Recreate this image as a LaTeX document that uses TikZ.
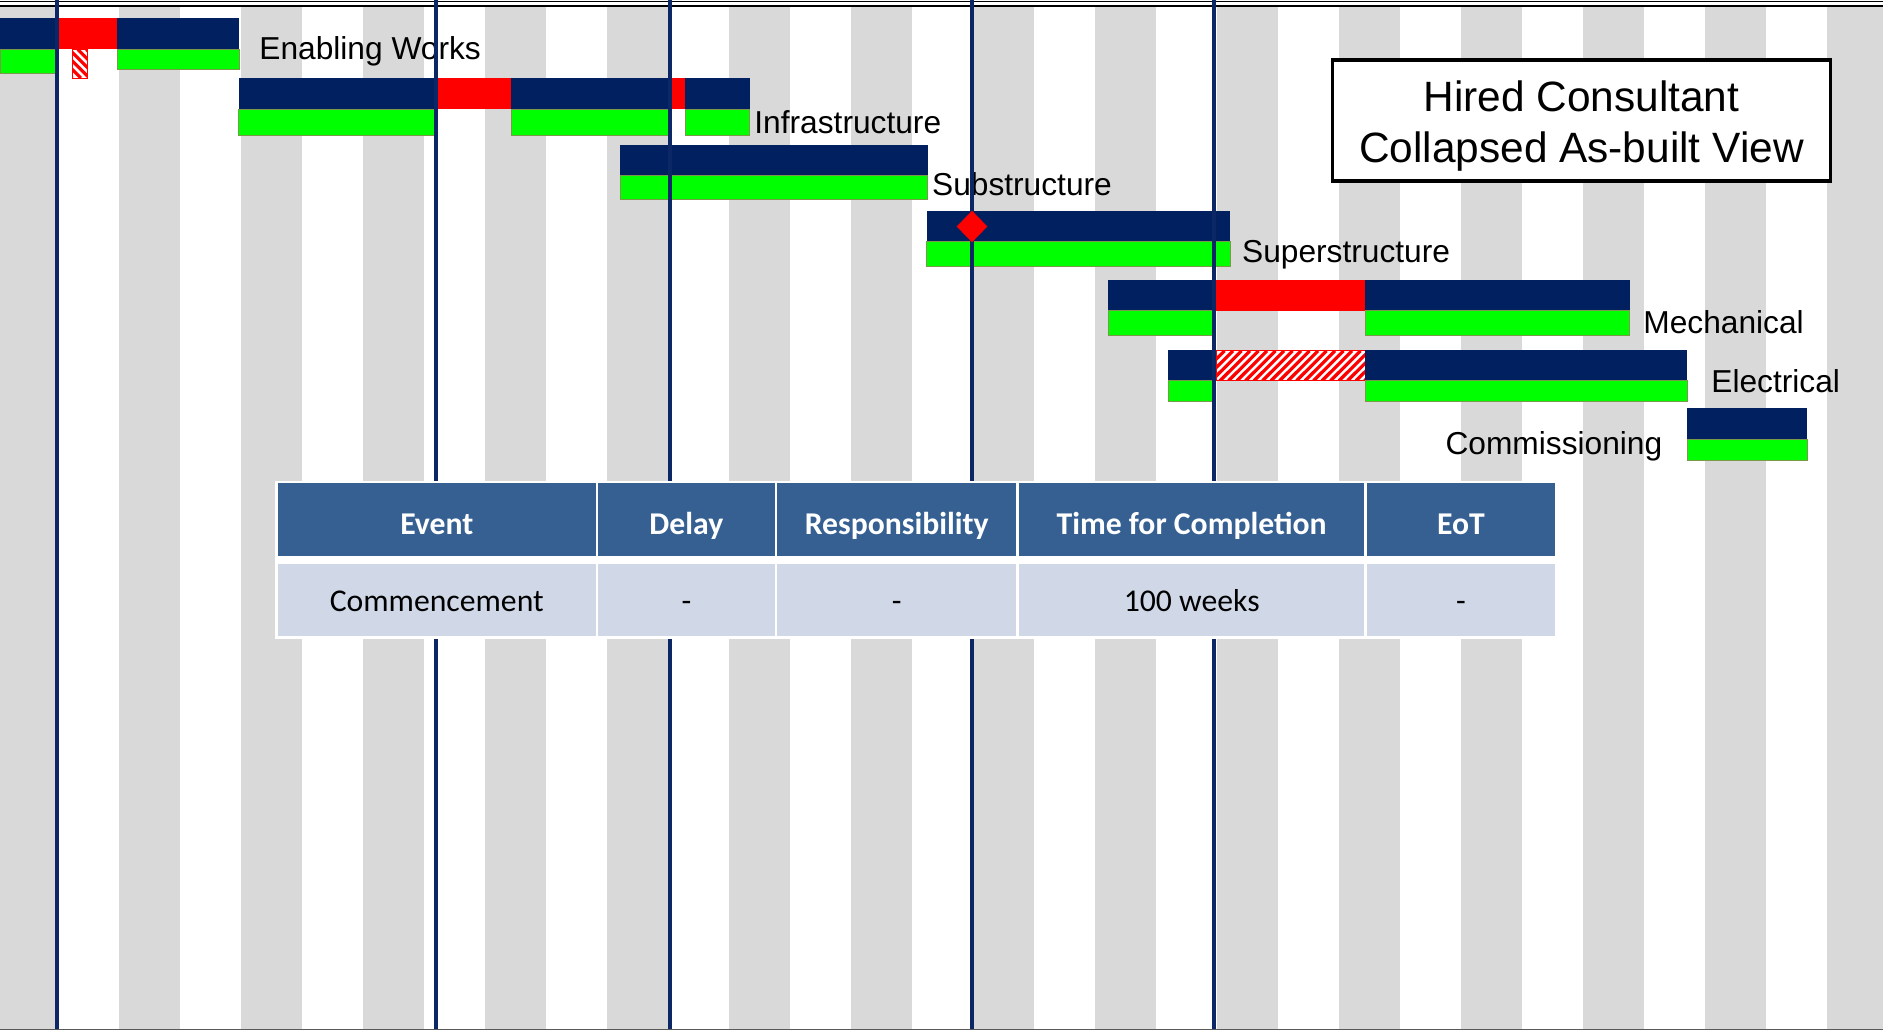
\documentclass[tikz,border=0pt]{standalone}
\usepackage{fontspec}
\setmainfont{Liberation Sans}
\newfontfamily\tablefont{Carlito}
\usetikzlibrary{shapes.geometric}
\definecolor{navy}{HTML}{002060}
\definecolor{barGreen}{HTML}{00FF00}
\definecolor{greenEdge}{HTML}{7A9A4A}
\definecolor{stripe}{HTML}{D9D9D9}
\definecolor{hdrBlue}{HTML}{366092}
\definecolor{rowBlue}{HTML}{D0D8E8}
\definecolor{gridLine}{HTML}{0B2766}
\definecolor{frameGray}{HTML}{595959}
\begin{document}
\begin{tikzpicture}[x=0.5pt,y=-0.5pt,
  navybar/.style={fill=navy},
  redbar/.style={fill=red},
  greenbar/.style={fill=barGreen, draw=greenEdge, line width=0.35pt},
  hatchline/.style={draw=red, line width=1.6pt},
  hatchedge/.style={draw=red, line width=0.5pt},
  gridline/.style={draw=gridLine, line width=1.9pt},
  barlabel/.style={anchor=base west, inner sep=0pt, font=\fontsize{15.85}{19}\selectfont},
  titletext/.style={anchor=base, inner sep=0pt, font=\fontsize{21.2}{25.5}\selectfont},
  hdrtext/.style={anchor=base, inner sep=0pt, text=white, font=\tablefont\bfseries\fontsize{15.85}{19}\selectfont},
  bodytext/.style={anchor=base, inner sep=0pt, text=black, font=\tablefont\fontsize{15.85}{19}\selectfont},
]
\useasboundingbox (0,0) rectangle (1883,1030);
\fill[white] (0,0) rectangle (1883,1030);

% week stripes
\foreach \k in {0,...,15}
  \fill[stripe] ({-3+122*\k},7) rectangle ({min(58+122*\k,1883)},1028.5);

% frame lines
\draw[black, line width=0.6pt] (0,1.5) -- (1883,1.5);
\draw[black, line width=1.2pt] (0,5.7) -- (1883,5.7);
\draw[frameGray, line width=0.7pt] (0,1029.3) -- (1883,1029.3);

% Enabling Works
\fill[navybar] (0,17.5) rectangle (55,49);
\fill[redbar] (55,17.5) rectangle (117.3,49);
\fill[navybar] (117.3,17.5) rectangle (239.3,49);
\path[greenbar] (0,49) rectangle (55,73.5);
\path[greenbar] (117.3,49) rectangle (239.3,69);
% slipped portion, back-slash hatch
\fill[white] (72.3,49.5) rectangle (87.7,78);
\begin{scope}
  \clip (72.3,49.5) rectangle (87.7,78);
  \foreach \i in {0,...,6}
    \draw[hatchline] ({72.3-28.5+8.5*\i},49.5) -- ({72.3+8.5*\i},78);
\end{scope}
\draw[hatchedge] (72.3,49.5) rectangle (87.7,78);

% Infrastructure
\fill[navybar] (238.7,78.3) rectangle (437,109.3);
\fill[redbar] (437,78.3) rectangle (511.3,109.3);
\fill[navybar] (511.3,78.3) rectangle (671.2,109.3);
\fill[redbar] (671.2,78.3) rectangle (685,109.3);
\fill[navybar] (685,78.3) rectangle (749.5,109.3);
\path[greenbar] (238.7,109.3) rectangle (434,135);
\path[greenbar] (511.3,109.3) rectangle (668.4,135);
\path[greenbar] (685,109.3) rectangle (749.5,135);

% Substructure
\fill[navybar] (620,144.5) rectangle (927.5,175.3);
\path[greenbar] (620,175.3) rectangle (927.5,199.3);

% Superstructure
\fill[navybar] (926.7,211) rectangle (1230,241.7);
\path[greenbar] (926.7,241.7) rectangle (1230,266);

% Mechanical
\fill[navybar] (1108.3,280) rectangle (1214,310.7);
\fill[redbar] (1214,280) rectangle (1365.3,310.7);
\fill[navybar] (1365.3,280) rectangle (1629.8,310.7);
\path[greenbar] (1108.3,310.7) rectangle (1212,335.3);
\path[greenbar] (1365.3,310.7) rectangle (1629.8,335.3);

% Electrical
\fill[navybar] (1168.4,350.3) rectangle (1214,380.7);
\fill[white] (1216,350.8) rectangle (1365.3,380.7);
\begin{scope}
  \clip (1216,350.8) rectangle (1365.3,380.7);
  \foreach \i in {0,...,22}
    \draw[hatchline] ({1216-30+8.5*\i},380.7) -- ({1216+8.5*\i},350.8);
\end{scope}
\draw[hatchedge] (1216,350.8) rectangle (1365.3,380.7);
\fill[navybar] (1365.3,350.3) rectangle (1687,380.7);
\path[greenbar] (1168.4,380.7) rectangle (1212,401.7);
\path[greenbar] (1365.3,380.7) rectangle (1687,401.7);

% Commissioning
\fill[navybar] (1687,408.3) rectangle (1807.3,439.3);
\path[greenbar] (1687,439.3) rectangle (1807.3,460);

% activity labels
\node[barlabel] (lblEW) at (259,59) {Enabling Works};
\node[barlabel] (lblINF) at (754,133) {Infrastructure};
\node[barlabel] (lblSUB) at (931.7,195.5) {Substructure};
\node[barlabel] (lblSUP) at (1241.7,262.8) {Superstructure};
\node[barlabel] (lblMEC) at (1643,333) {Mechanical};
\node[barlabel] (lblELE) at (1711,392) {Electrical};
\node[barlabel, anchor=base east] (lblCOM) at (1662.6,454.5) {Commissioning};

% data dates
\foreach \gx in {57,436,670,972,1214}
  \draw[gridline] (\gx,0) -- (\gx,1029);

% milestone
\node[diamond, fill=red, minimum width=15.5pt, minimum height=16pt, inner sep=0pt] (milestone) at (972,226.5) {};

% title box
\node[draw=black, line width=1.8pt, fill=white, minimum width=249pt, minimum height=60.5pt, inner sep=0pt] (titlebox) at (1581.4,120.5) {};
\node[titletext] (titleA) at (1581.4,111) {Hired Consultant};
\node[titletext] (titleB) at (1581.4,162.3) {Collapsed As-built View};

% event table
\fill[white] (275,480.5) rectangle (1557.5,638.5);
\foreach \xa/\xb/\nm/\hd/\bd in {278/595.5/ev/Event/Commencement,
    598/774.7/dl/Delay/-,
    777/1016.4/rs/Responsibility/-,
    1019/1364.3/tc/Time for Completion/100 weeks,
    1367/1555/eot/EoT/-} {
  \fill[hdrBlue] (\xa,482.7) rectangle (\xb,555.7);
  \fill[rowBlue] (\xa,564) rectangle (\xb,635.7);
  \node[hdrtext] (h\nm) at ({(\xa+\xb)/2},534.2) {\hd};
  \node[bodytext] (b\nm) at ({(\xa+\xb)/2},611) {\bd};
}
\end{tikzpicture}
\end{document}
